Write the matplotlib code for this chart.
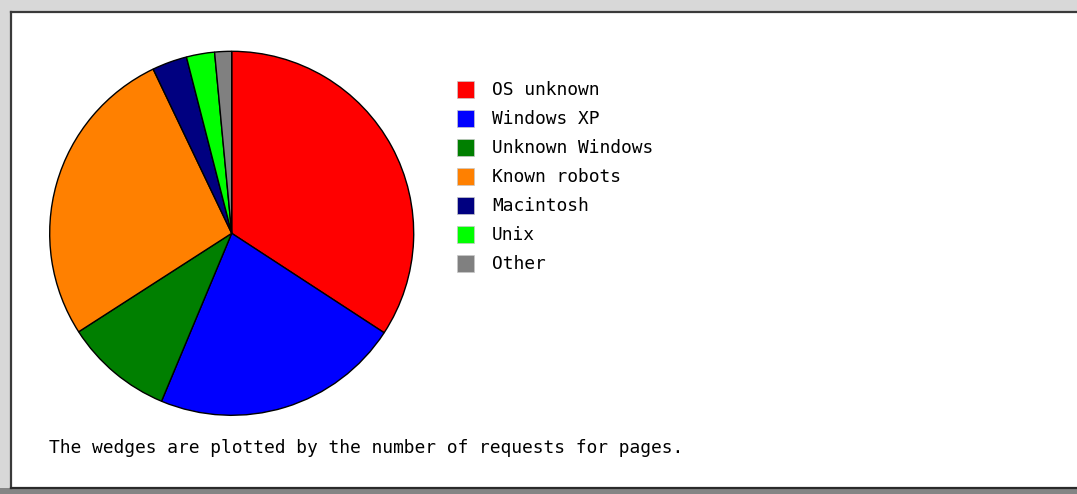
import matplotlib
matplotlib.use("Agg")
import matplotlib.pyplot as plt
from matplotlib.patches import Rectangle

# share of page requests per operating system (percent)
labels = ["OS unknown", "Windows XP", "Unknown Windows", "Known robots",
          "Macintosh", "Unix", "Other"]
shares = [34.2, 22.1, 9.6, 27.0, 3.1, 2.5, 1.5]
colors = ["#ff0000", "#0000ff", "#007f00", "#ff8000", "#000080", "#00ff00", "#808080"]
caption = "The wedges are plotted by the number of requests for pages."

W, H = 1077, 494
fig = plt.figure(figsize=(W / 100, H / 100), dpi=100)
fig.patch.set_facecolor("#d8d8d8")

def px(x, y, w, h):
    # pixel box (top-left origin) -> figure fraction
    return (x / W, 1 - (y + h) / H, w / W, h / H)

# white panel with bevelled frame (kept behind the pie axes)
l, b, w, h = px(11, 12, W - 11, 476)
fig.add_artist(Rectangle((l, b), w, h, transform=fig.transFigure,
                         facecolor="white", edgecolor="none", zorder=-10))
l, b, w, h = px(0, 488, W, 6)
fig.add_artist(Rectangle((l, b), w, h, transform=fig.transFigure,
                         facecolor="#858585", edgecolor="none", zorder=-10))
fig.add_artist(plt.Line2D([11 / W, 11 / W], [1 - 12 / H, 1 - 488 / H],
                          transform=fig.transFigure, color="#3a3a3a", lw=1.6, zorder=-5))
fig.add_artist(plt.Line2D([11 / W, 1], [1 - 12 / H, 1 - 12 / H],
                          transform=fig.transFigure, color="#3a3a3a", lw=1.6, zorder=-5))
fig.add_artist(plt.Line2D([11 / W, 1], [1 - 487.5 / H, 1 - 487.5 / H],
                          transform=fig.transFigure, color="#2a2a2a", lw=1.6, zorder=-5))

# pie
cx, cy, r = 231.7, 233.3, 182
ax = fig.add_axes(px(cx - r, cy - r, 2 * r, 2 * r))
ax.set_zorder(5)
ax.patch.set_visible(False)
ax.pie(shares, colors=colors, startangle=90, counterclock=False, radius=1,
       wedgeprops=dict(edgecolor="black", linewidth=1))
ax.set_xlim(-1, 1)
ax.set_ylim(-1, 1)
ax.set_aspect("equal")
ax.axis("off")

# legend
font = dict(family="DejaVu Sans Mono", size=12.9, color="black")
for i, (lab, col) in enumerate(zip(labels, colors)):
    y = 81 + i * 29
    l, b, w, h = px(457, y, 17, 17)
    fig.add_artist(Rectangle((l, b), w, h, transform=fig.transFigure,
                             facecolor=col, edgecolor="#c8c8c8", lw=0.5))
    fig.text(492 / W, 1 - (y + 9) / H, lab, va="center", ha="left", **font)

fig.text(49 / W, 1 - 448 / H, caption, va="center", ha="left", **font)

fig.savefig("out.png", dpi=100, facecolor=fig.get_facecolor())
